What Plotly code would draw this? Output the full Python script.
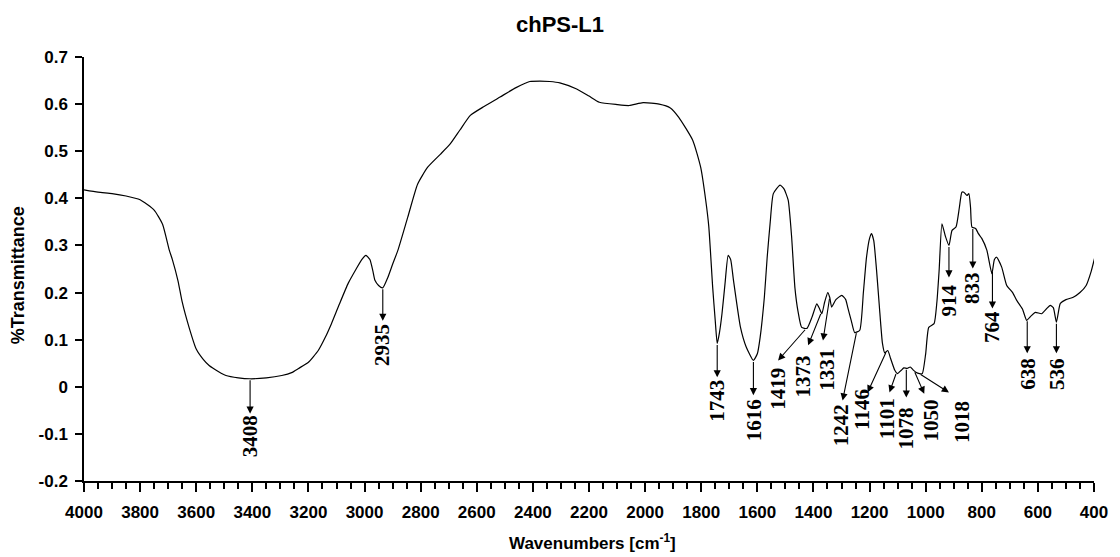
import numpy as np
import plotly.graph_objects as go

# ---------------- data ----------------
wavenumber = [4000, 3950, 3900, 3850, 3800, 3750, 3720, 3696, 3685, 3665, 3650, 3625, 3600, 3575,
              3554, 3520, 3494, 3450, 3408, 3350, 3295, 3260, 3235, 3200, 3165, 3140, 3118, 3090,
              3058, 3030, 3010, 2995, 2981, 2970, 2963, 2950, 2935, 2917, 2900, 2881, 2846, 2811,
              2775, 2729, 2694, 2660, 2623, 2574, 2517, 2460, 2411, 2375, 2340, 2304, 2244, 2200,
              2163, 2100, 2057, 2007, 1950, 1910, 1880, 1830, 1802, 1784, 1773, 1759, 1750, 1743,
              1735, 1726, 1715, 1704, 1695, 1685, 1660, 1640, 1614, 1600, 1590, 1575, 1565, 1554,
              1543, 1519, 1505, 1490, 1478, 1466, 1455, 1442, 1423, 1405, 1388, 1378, 1370, 1360,
              1349, 1342, 1335, 1320, 1299, 1285, 1278, 1265, 1253, 1235, 1222, 1211, 1200, 1193,
              1185, 1175, 1165, 1154, 1146, 1135, 1125, 1110, 1101, 1087, 1078, 1066, 1055, 1045,
              1035, 1022, 1012, 1000, 989, 970, 960, 952, 942, 930, 917, 906, 892, 880, 871, 864,
              853, 846, 840, 835, 822, 812, 800, 782, 764, 755, 747, 729, 711, 690, 676, 655, 640,
              625, 609, 587, 570, 556, 545, 534, 525, 520, 500, 474, 450, 428, 410, 397]
transmittance = [0.418, 0.413, 0.410, 0.405, 0.397, 0.375, 0.345, 0.290, 0.270, 0.225, 0.180, 0.125,
                 0.080, 0.058, 0.045, 0.032, 0.024, 0.019, 0.017, 0.019, 0.024, 0.030, 0.039, 0.052,
                 0.077, 0.105, 0.134, 0.175, 0.220, 0.250, 0.270, 0.279, 0.270, 0.245, 0.226, 0.215,
                 0.210, 0.232, 0.260, 0.290, 0.360, 0.430, 0.466, 0.494, 0.516, 0.545, 0.576, 0.595,
                 0.615, 0.635, 0.648, 0.649, 0.648, 0.645, 0.632, 0.617, 0.604, 0.599, 0.597, 0.603,
                 0.600, 0.592, 0.572, 0.523, 0.466, 0.396, 0.340, 0.210, 0.140, 0.092, 0.115, 0.155,
                 0.220, 0.279, 0.270, 0.226, 0.126, 0.085, 0.056, 0.070, 0.105, 0.190, 0.274, 0.350,
                 0.410, 0.428, 0.420, 0.396, 0.320, 0.210, 0.160, 0.126, 0.124, 0.148, 0.176, 0.165,
                 0.155, 0.180, 0.200, 0.190, 0.169, 0.185, 0.194, 0.185, 0.169, 0.140, 0.115, 0.120,
                 0.200, 0.274, 0.315, 0.325, 0.310, 0.247, 0.170, 0.092, 0.072, 0.077, 0.060, 0.035,
                 0.028, 0.035, 0.040, 0.039, 0.042, 0.036, 0.031, 0.028, 0.028, 0.070, 0.126, 0.134,
                 0.180, 0.247, 0.346, 0.320, 0.300, 0.332, 0.339, 0.380, 0.413, 0.413, 0.406, 0.410,
                 0.380, 0.339, 0.336, 0.325, 0.315, 0.290, 0.240, 0.270, 0.275, 0.254, 0.215, 0.200,
                 0.184, 0.165, 0.141, 0.150, 0.158, 0.155, 0.165, 0.173, 0.168, 0.137, 0.165, 0.177,
                 0.185, 0.190, 0.200, 0.215, 0.245, 0.275]

peak_labels = ["3408", "2935", "1743", "1616", "1419", "1373", "1331", "1242", "1146", "1101",
               "1078", "1050", "1018", "914", "833", "764", "638", "536"]

y_ticks = [-0.2, -0.1, 0, 0.1, 0.2, 0.3, 0.4, 0.5, 0.6, 0.7]
y_tick_text = ["-0.2", "-0.1", "0", "0.1", "0.2", "0.3", "0.4", "0.5", "0.6", "0.7"]

# arrow geometry (tail x on curve, head x, head y, label x, label y) per label
arrow_layout = {
    "3408": (3408, 3408, -0.057, 3408, -0.105),
    "2935": (2935, 2935, 0.140, 2935, 0.088),
    "1743": (1743, 1743, 0.020, 1743, -0.029),
    "1616": (1614, 1614, -0.018, 1614, -0.070),
    "1419": (1425, 1526, 0.056, 1526, -0.004),
    "1373": (1372, 1419, 0.088, 1437, 0.022),
    "1331": (1342, 1366, 0.098, 1352, 0.036),
    "1242": (1246, 1296, -0.029, 1299, -0.082),
    "1146": (1140, 1207, -0.012, 1225, -0.048),
    "1101": (1104, 1129, -0.012, 1140, -0.068),
    "1078": (1069, 1069, -0.023, 1069, -0.088),
    "1050": (1041, 1005, -0.015, 980, -0.071),
    "1018": (1023, 917, -0.012, 871, -0.075),
    "914": (917, 917, 0.232, 917, 0.183),
    "833": (832, 832, 0.251, 832, 0.209),
    "764": (762, 762, 0.166, 762, 0.128),
    "638": (638, 638, 0.071, 638, 0.028),
    "536": (534, 534, 0.071, 534, 0.028),
}

# ---------------- figure ----------------
fig = go.Figure()
fig.add_trace(go.Scatter(x=wavenumber, y=transmittance, mode="lines",
                         line=dict(color="black", width=1.2, shape="spline", smoothing=0.5),
                         showlegend=False, hoverinfo="skip"))

wn_sorted = np.array(wavenumber[::-1], dtype=float)
tr_sorted = np.array(transmittance[::-1], dtype=float)

serif = "Times New Roman, Liberation Serif, serif"
sans = "Arial, Liberation Sans, sans-serif"

annotations = []
for lab in peak_labels:
    tx, hx, hy, lx, ly = arrow_layout[lab]
    ty = float(np.interp(tx, wn_sorted, tr_sorted))
    annotations.append(dict(x=hx, y=hy, ax=tx, ay=ty, xref="x", yref="y", axref="x", ayref="y",
                            text="", showarrow=True, arrowhead=2, arrowsize=1.3,
                            arrowwidth=1.1, arrowcolor="black", standoff=0, startstandoff=0))
    annotations.append(dict(x=lx, y=ly, xref="x", yref="y", text="<b>%s</b>" % lab,
                            showarrow=False, textangle=-90, xanchor="center", yanchor="middle",
                            font=dict(family=serif, size=21, color="black")))

annotations.append(dict(x=0.503, y=-0.145, xref="paper", yref="paper",
                        text="<b>Wavenumbers [cm<sup>-1</sup>]</b>", showarrow=False,
                        xanchor="center", yanchor="middle",
                        font=dict(family=sans, size=17, color="black")))
annotations.append(dict(x=-0.065, y=0.486, xref="paper", yref="paper",
                        text="<b>%Transmittance</b>", showarrow=False, textangle=-90,
                        xanchor="center", yanchor="middle",
                        font=dict(family=sans, size=18, color="black")))

fig.update_layout(
    width=1120, height=557,
    margin=dict(l=84, r=19, t=57, b=76),
    paper_bgcolor="white", plot_bgcolor="white",
    title=dict(text="<b>chPS-L1</b>", x=0.5, xref="container", xanchor="center",
               y=1 - 24 / 557, yref="container", yanchor="middle",
               font=dict(family=sans, size=22, color="black")),
    xaxis=dict(range=[4000, 400], tickmode="linear", tick0=400, dtick=200, tickformat="d",
               showgrid=False, zeroline=False,
               showline=True, linecolor="#000000", linewidth=1.5, ticks="outside", ticklen=9,
               tickwidth=2, tickcolor="#000000", ticklabelstandoff=6,
               minor=dict(tick0=400, dtick=50, ticks="outside", ticklen=6, tickwidth=1.5,
                          tickcolor="#000000", showgrid=False),
               tickfont=dict(family=sans, size=17, color="black", weight="bold")),
    yaxis=dict(range=[-0.2, 0.7], tickmode="array", tickvals=y_ticks, ticktext=y_tick_text,
               showgrid=False, zeroline=False, showline=True, linecolor="#000000",
               linewidth=1.5, ticks="outside", ticklen=7, tickwidth=2, tickcolor="#000000",
               ticklabelstandoff=4,
               tickfont=dict(family=sans, size=17, color="black", weight="bold")),
    annotations=annotations,
)

fig.write_html("out.html")
